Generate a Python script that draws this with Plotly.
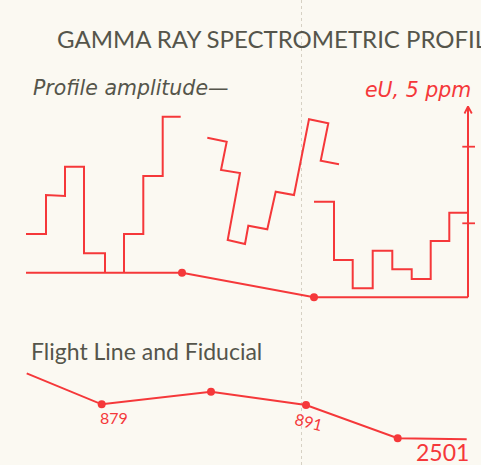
import plotly.graph_objects as go

W, H = 481, 465
RED = "#f5383a"
GRAY = "#55554b"
BG = "#fbf9f2"

# Profile amplitude polylines (diagram coordinates in pixels of the original sheet)
base_x = [26, 182, 314, 468]
base_y = [272.7, 272.7, 297.3, 297.3]

prof1_x = [26, 46, 46, 65, 65, 84, 84, 105, 105]
prof1_y = [234, 234, 195, 196, 166.7, 166.7, 253.3, 253.3, 272.7]

prof2_x = [124, 124, 143.3, 143.3, 162.7, 162.7, 180.7]
prof2_y = [272.7, 234, 234, 176, 176, 116.7, 116.7]

prof3_x = [207.3, 226.7, 221, 240, 227.7, 245, 248.3, 267.3, 275.7, 294, 309, 328.3, 320.7, 339]
prof3_y = [137.7, 141.7, 170, 173, 240, 244, 225.7, 229.3, 191.7, 195, 119.3, 123.3, 160.7, 164.3]

prof4_x = [314, 334, 334, 352.7, 352.7, 372.7, 372.7, 392.3, 392.3, 411.7, 411.7, 430.7, 430.7, 449.3, 449.3, 467.7]
prof4_y = [201.7, 201.7, 260, 260, 288.3, 288.3, 250.7, 250.7, 269.3, 269.3, 279, 279, 241, 241, 212.7, 212.7]

axis_x = [468, 468]
axis_y = [297.3, 107]
arrow_x = [464.5, 468, 471.8]
arrow_y = [113.5, 106.5, 113.5]
tick_y = [146.7, 223.3]

# Flight line and fiducials
flight_x = [26.7, 101.7, 211, 306, 397.7, 466.7]
flight_y = [373.3, 404.3, 391.7, 405, 438.3, 439.3]
fid_x = [101.7, 211, 306, 397.7]
fid_y = [404.3, 391.7, 405, 438.3]
prof_dot_x = [182, 314]
prof_dot_y = [272.7, 297.3]

fid_labels = ["879", "891"]
fid_label_x = [114, 309]
fid_label_y = [417.5, 421]
fid_label_angle = [0, 14]

fig = go.Figure()

def line(xs, ys, w=2.0):
    fig.add_trace(go.Scatter(x=xs, y=ys, mode="lines",
                             line=dict(color=RED, width=w), hoverinfo="skip"))

# fold line
fig.add_trace(go.Scatter(x=[301.5, 301.5], y=[0, 465], mode="lines",
                         line=dict(color="#d6d1c4", width=1, dash="dot"), hoverinfo="skip"))

for xs, ys in [(base_x, base_y), (prof1_x, prof1_y), (prof2_x, prof2_y),
               (prof3_x, prof3_y), (prof4_x, prof4_y), (axis_x, axis_y),
               (flight_x, flight_y)]:
    line(xs, ys)
line(arrow_x, arrow_y, 1.8)
for ty in tick_y:
    line([462.3, 475], [ty, ty], 1.8)

fig.add_trace(go.Scatter(x=prof_dot_x + fid_x, y=prof_dot_y + fid_y, mode="markers",
                         marker=dict(color=RED, size=8), hoverinfo="skip"))

ann = []
ann.append(dict(text="GAMMA RAY SPECTROMETRIC PROFILE", x=55, y=38, xanchor="left", yanchor="middle",
                font=dict(family="Lato", size=24, color=GRAY)))
ann.append(dict(text="<i>Profile amplitude—</i>", x=30.5, y=88, xanchor="left", yanchor="middle",
                font=dict(family="DejaVu Sans", size=20.5, color=GRAY)))
ann.append(dict(text="<i>eU, 5 ppm</i>", x=473, y=90, xanchor="right", yanchor="middle",
                font=dict(family="DejaVu Sans", size=20.5, color=RED)))
ann.append(dict(text="Flight Line and Fiducial", x=29, y=351, xanchor="left", yanchor="middle",
                font=dict(family="Lato", size=23, color=GRAY)))
for t, lx, ly, a in zip(fid_labels, fid_label_x, fid_label_y, fid_label_angle):
    ann.append(dict(text=t, x=lx, y=ly, xanchor="center", yanchor="middle", textangle=a,
                    font=dict(family="Lato", size=16, color=RED)))
ann.append(dict(text="2501", x=442, y=452, xanchor="center", yanchor="middle",
                font=dict(family="Lato", size=23, color=RED)))
for a in ann:
    a.update(xref="x", yref="y", showarrow=False)

fig.update_layout(
    width=W, height=H, margin=dict(l=0, r=0, t=0, b=0),
    paper_bgcolor=BG, plot_bgcolor=BG, showlegend=False,
    xaxis=dict(range=[0, W], visible=False, fixedrange=True),
    yaxis=dict(range=[H, 0], visible=False, fixedrange=True),
    annotations=ann,
)
fig.write_html(
    "out.html",
    config={"displayModeBar": False},
    post_script="document.body.style.margin='0';document.body.style.overflow='hidden';"
                "document.body.style.background='" + BG + "';",
)
